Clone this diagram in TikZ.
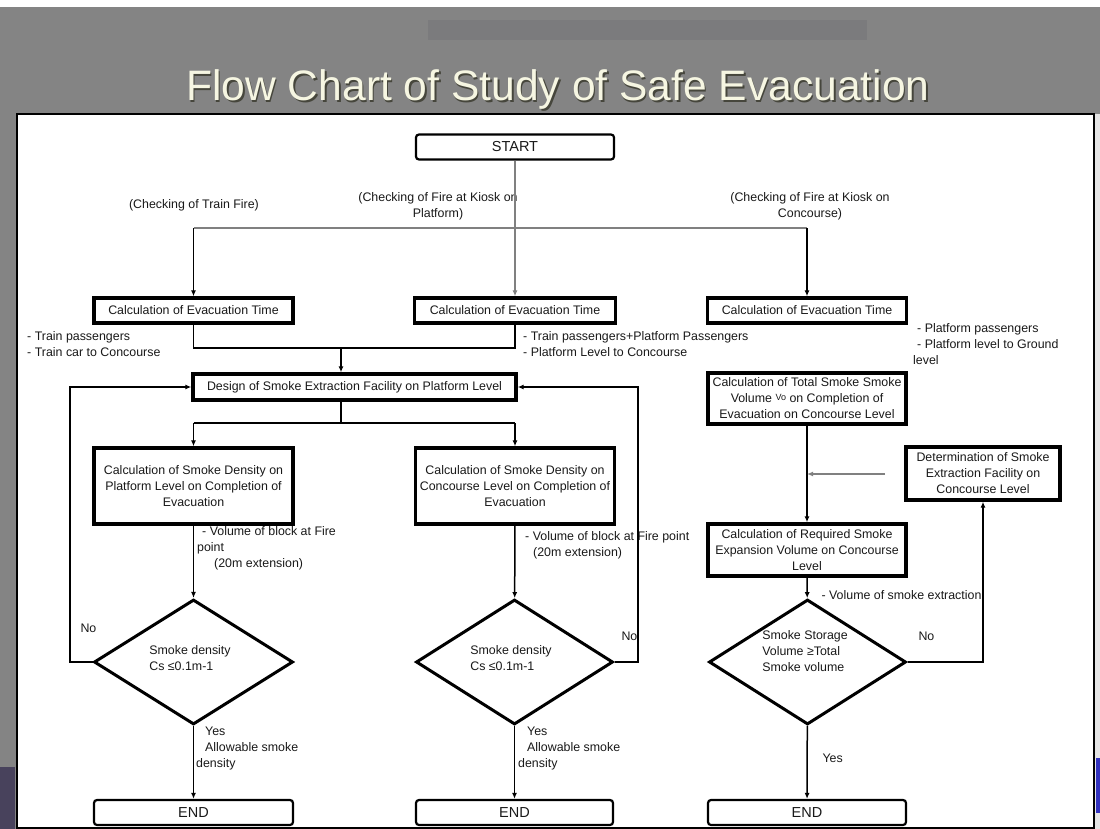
\documentclass[tikz,border=0pt]{standalone}
\usepackage{fontspec}
\setmainfont{Liberation Sans}
\usetikzlibrary{arrows.meta,shapes.geometric}
\definecolor{hdr}{RGB}{132,132,132}
\definecolor{hdrdark}{RGB}{123,123,125}
\definecolor{titlec}{RGB}{246,246,226}
\definecolor{shadowc}{RGB}{70,70,60}
\definecolor{cornerc}{RGB}{72,66,92}
\definecolor{bluec}{RGB}{50,50,190}
\definecolor{ink}{RGB}{25,25,25}

\begin{document}
\begin{tikzpicture}[x=1pt,y=-1pt,
  font=\fontsize{12.4}{16}\selectfont,text=ink,
  box/.style={draw=black,line width=3.4pt,inner sep=0pt,align=center},
  term/.style={draw=black,line width=2.2pt,rounded corners=3pt,inner sep=0pt,
    minimum height=25pt,font=\fontsize{14.5}{16}\selectfont},
  dec/.style={diamond,draw=black,line width=3pt,inner sep=0pt,minimum height=125pt},
  note/.style={align=left,inner sep=0pt},
  link/.style={line width=1.5pt,draw=black},
  arr/.style={link,-{Latex[length=6pt,width=5pt]}}]
  \useasboundingbox (0,0) rectangle (1100,829);
  \fill[white] (0,0) rectangle (1100,829);
  \fill[hdr] (0,7) rectangle (1100,114);
  \fill[hdrdark] (428,20) rectangle (867,40);
  \fill[hdr] (0,114) rectangle (17,829);
  \fill[cornerc] (0,767) rectangle (15,829);
  \fill[gray!20] (1094,114) rectangle (1100,829);
  \fill[bluec] (1096,758) rectangle (1100,813);
  \filldraw[fill=white,draw=black,line width=1.5pt] (17,114) rectangle (1094,828);

  \node[font=\fontsize{42.6}{44}\selectfont,text=shadowc,anchor=base] at (559.5,102.5)
    {Flow Chart of Study of Safe Evacuation};
  \node[font=\fontsize{42.6}{44}\selectfont,text=titlec,anchor=base] (title) at (558,101)
    {Flow Chart of Study of Safe Evacuation};

  \node[term,minimum width=198pt] (start) at (515,147) {START};
  \node[anchor=base] (chkA) at (194,209) {(Checking of Train Fire)};
  \node[align=center,inner sep=0pt,anchor=north] (chkB) at (438,192)
    {(Checking of Fire at Kiosk on\\Platform)};
  \node[align=center,inner sep=0pt,anchor=north] (chkC) at (810,192)
    {(Checking of Fire at Kiosk on\\Concourse)};
  \coordinate (brA) at (193.5,228);
  \coordinate (brC) at (807,228);

  \node[box,minimum width=199pt,minimum height=25pt] (calcA) at (193.5,310.5) {Calculation of Evacuation Time};
  \node[box,minimum width=201pt,minimum height=25pt] (calcB) at (515,310.5) {Calculation of Evacuation Time};
  \node[box,minimum width=199pt,minimum height=25pt] (calcC) at (807,310.5) {Calculation of Evacuation Time};
  \node[note,anchor=north west] (psgA) at (27,331) {- Train passengers\\- Train car to Concourse};
  \node[note,anchor=north west] (psgB) at (523,331)
    {- Train passengers+Platform Passengers\\- Platform Level to Concourse};
  \node[note,anchor=north west] (psgC) at (913,323)
    {\hspace*{4pt}- Platform passengers\\\hspace*{4pt}- Platform level to Ground\\level};
  \coordinate (mg) at (341,348);

  \node[box,minimum width=323pt,minimum height=26pt] (design) at (354.5,387)
    {Design of Smoke Extraction Facility on Platform Level};
  \coordinate (sp) at (341,423);
  \coordinate (lpA) at (70,387);
  \coordinate (lpB) at (638,387);

  \node[box,minimum width=199pt,minimum height=76pt] (smA) at (193.5,486)
    {Calculation of Smoke Density on\\Platform Level on Completion of\\Evacuation};
  \node[box,minimum width=199pt,minimum height=76pt] (smB) at (515,486)
    {Calculation of Smoke Density on\\Concourse Level on Completion of\\Evacuation};
  \node[note,anchor=north west] (volA) at (197,526)
    {\hspace*{5pt}- Volume of block at Fire\\point\\\hspace*{17pt}(20m extension)};
  \node[note,anchor=north west] (volB) at (525,531)
    {- Volume of block at Fire point\\\hspace*{8pt}(20m extension)};

  \node[box,minimum width=198pt,minimum height=51pt] (total) at (807,398.5)
    {Calculation of Total Smoke Smoke\\Volume \raisebox{2pt}{\fontsize{9}{9}\selectfont Vo} on Completion of\\Evacuation on Concourse Level};
  \node[box,minimum width=154pt,minimum height=53pt] (det) at (983,473.5)
    {Determination of Smoke\\Extraction Facility on\\Concourse Level};
  \coordinate (hA) at (885,474);
  \node[box,minimum width=198pt,minimum height=52pt] (req) at (807,550)
    {Calculation of Required Smoke\\Expansion Volume on Concourse\\Level};
  \node[anchor=base west] (volC) at (818,599) {- Volume of smoke extraction};

  \node[dec,minimum width=199pt] (dA) at (193.5,662) {};
  \node[dec,minimum width=197pt] (dB) at (514.5,662) {};
  \node[dec,minimum width=197pt] (dC) at (807.5,662) {};
  \node[note] (txtA) at (190,658) {Smoke density\\Cs ≤0.1m-1};
  \node[note] (txtB) at (511,658) {Smoke density\\Cs ≤0.1m-1};
  \node[note] (txtC) at (805,651) {Smoke Storage\\Volume ≥Total\\Smoke volume};
  \node[anchor=base west] (noA) at (77,632) {No};
  \node[anchor=base west] (noB) at (618,640) {No};
  \node[anchor=base west] (noC) at (915,640) {No};
  \node[note,anchor=north west] (yesA) at (196,727)
    {\hspace*{9pt}Yes\\\hspace*{9pt}Allowable smoke\\density};
  \node[note,anchor=north west] (yesB) at (518,727)
    {\hspace*{9pt}Yes\\\hspace*{9pt}Allowable smoke\\density};
  \node[anchor=base west] (yesC) at (819,762) {Yes};

  \node[term,minimum width=199pt] (endA) at (193.5,812.5) {END};
  \node[term,minimum width=197pt] (endB) at (514.5,812.5) {END};
  \node[term,minimum width=198pt] (endC) at (807,812.5) {END};

  \draw[arr,draw=gray] (start) -- (calcB);
  \draw[link,draw=gray,line width=2pt] (brA) -- (brC);
  \draw[arr] (brA) -- (brA |- calcA.north);
  \draw[arr] (brC) -- (brC |- calcC.north);
  \draw[link] (calcA) -- (calcA |- mg) -- (calcB |- mg) -- (calcB);
  \draw[arr] (mg) -- (mg |- design.north);
  \draw[link] (design.south -| sp) -- (sp);
  \draw[link] (smA.north |- sp) -- (smB.north |- sp);
  \draw[arr] (smA.north |- sp) -- (smA.north);
  \draw[arr] (smB.north |- sp) -- (smB.north);
  \draw[arr] (smA) -- (dA);
  \draw[arr] (smB) -- (dB);
  \draw[arr] (dA) -- (endA);
  \draw[arr] (dB) -- (endB);
  \draw[arr] (dA.west) -| (lpA) -- (design.west);
  \draw[arr] (dB.east) -| (lpB) -- (design.east);
  \draw[arr] (total) -- (req);
  \draw[arr,draw=gray] (hA) -- (hA -| req.north);
  \draw[arr] (req) -- (dC);
  \draw[arr] (dC.east) -| (det.south);
  \draw[arr] (dC) -- (endC);
\end{tikzpicture}
\end{document}
